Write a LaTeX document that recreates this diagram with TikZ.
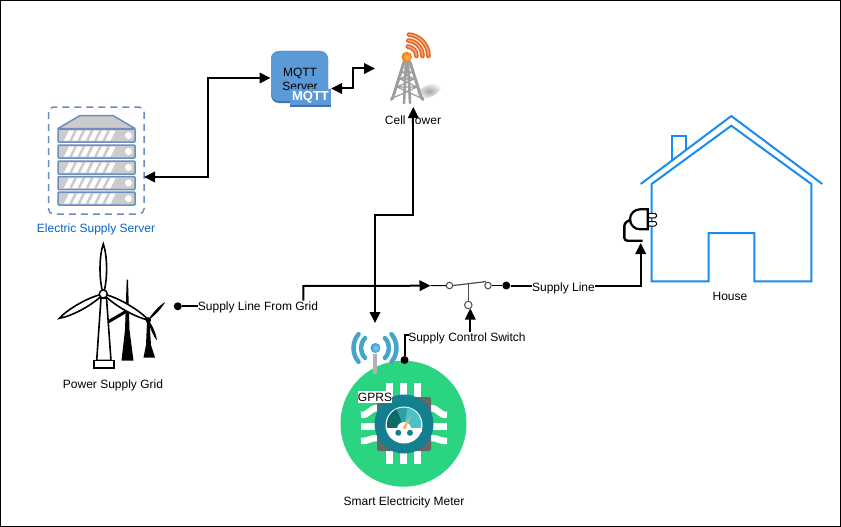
\documentclass[tikz,border=0pt]{standalone}
\usepackage{fontspec}
\setmainfont{Liberation Sans}
\usetikzlibrary{arrows.meta,shapes.geometric}
\definecolor{srvline}{HTML}{6C8EBF}
\definecolor{srvblue}{HTML}{0066CC}
\definecolor{housecol}{HTML}{1A8CF0}
\definecolor{mqttcol}{HTML}{5B9AD6}
\definecolor{mqttdark}{HTML}{3F73A8}
\definecolor{metergreen}{HTML}{2BD481}
\definecolor{meterteal}{HTML}{14808F}
\definecolor{wificol}{HTML}{45A5C9}
\definecolor{arcdark}{HTML}{E4642C}
\definecolor{arclight}{HTML}{F8AA6E}
\definecolor{ballorange}{HTML}{F07818}
\definecolor{ballcore}{HTML}{FFC040}
\definecolor{ballblue}{HTML}{2E9BDC}
\definecolor{gaugemid}{HTML}{2DA0AA}
\definecolor{gaugelight}{HTML}{4CC3C9}
\definecolor{gaugedark}{HTML}{0F6969}
\definecolor{needle}{HTML}{F4B464}
\newcommand{\blademark}[6]{% x y angle length halfwidth style
  \begin{scope}[shift={(#1,#2)},rotate=#3]
  \path[#6] (0,0) .. controls (#4*.3,#5*1.3) and (#4*.8,#5) .. (#4,0)
    .. controls (#4*.8,-#5) and (#4*.3,-#5*1.3) .. (0,0) -- cycle;
  \end{scope}}
\tikzset{
  lbl/.style={font=\fontsize{12}{14}\selectfont,inner sep=0pt,text=black},
  conn/.style={draw=black,line width=2pt,line join=miter},
  head/.style={-{Triangle[length=11pt,width=10.5pt]}},
  bothheads/.style={{Triangle[length=11pt,width=10.5pt]}-{Triangle[length=11pt,width=10.5pt]}},
  dotnode/.style={circle,fill=black,inner sep=0pt,minimum size=8pt},
  swcontact/.style={circle,draw=black!70,fill=white,line width=1pt,inner sep=0pt,minimum size=6.5pt},
  srvrow/.style={draw=srvline,fill=black!20,line width=1.5pt,rounded corners=1pt},
  housepath/.style={draw=housecol,line width=2pt,line join=miter},
  pinw/.style={draw=white,line width=6.5pt},
  wifiarc/.style={draw=wificol,line width=4.5pt,line cap=round}
}
\begin{document}
\begin{tikzpicture}[x=1pt,y=-1pt]
\useasboundingbox (0,0) rectangle (841,527);
\fill[white] (0,0) rectangle (841,527);
\draw[black,line width=1pt] (0.5,0.5) rectangle (840.5,526.5);

% ---- server
\draw[srvline,line width=1.5pt,dash pattern=on 7pt off 5pt,rounded corners=5pt] (48.5,107) rectangle (144,214);
\path[draw=srvline,fill=black!20,line width=1.5pt,line join=round] (58,128.5) -- (80,115.5) -- (113,115.5) -- (135,128.5) -- cycle;
\foreach \yt in {129,145,161,176.5,192}{
  \path[srvrow] (58,\yt) rectangle (135,\yt+13);
  \foreach \k in {0,...,5}{
    \fill[white] (64+\k*8.3,\yt+11.5) -- (69+\k*8.3,\yt+11.5) -- (74+\k*8.3,\yt+1.5) -- (69+\k*8.3,\yt+1.5) -- cycle;
  }
  \fill[white] (128.5,\yt+6.5) circle (3.5);
}
\node[lbl,text=srvblue] (srvlabel) at (96,229) {Electric Supply Server};
\coordinate (srvport) at (144,177);

% ---- MQTT server
\path[fill=mqttdark,rounded corners=8pt] (271,51) rectangle (328,103);
\path[fill=mqttcol,rounded corners=8pt] (271,51) rectangle (328,101);
\node[lbl,align=center] (mqtt) at (300,79) {MQTT\\Server};
\fill[mqttdark] (290,90) rectangle (331,106.5);
\node[font=\fontsize{13}{15}\selectfont\bfseries,fill=mqttcol,text=white,inner sep=0pt,minimum width=41pt,minimum height=15pt] (mqtttag) at (310.5,97) {MQTT};
\coordinate (mqttwest) at (270.5,78);
\coordinate (mqtteast) at (331,88.5);
\coordinate (towerwest) at (375,68.5);

% ---- cell tower
\shade[inner color=black!35,outer color=white,rotate around={25:(429,91)}] (429,91) ellipse (14 and 6);
\foreach \r in {21.5,15.5,9.5}{
  \draw[draw=arcdark,line width=4.6pt,line cap=round] (407+\r,56) arc[start angle=0,end angle=-85,radius=\r];
  \draw[draw=arclight,line width=1.4pt,line cap=round] (407+\r,56) arc[start angle=0,end angle=-85,radius=\r];
}
\begin{scope}[black!38,line cap=round]
  \draw[line width=3pt] (404,62) -- (393,97) -- (391.5,99.5);
  \draw[line width=3pt] (410,62) -- (421,97) -- (423,99.5);
  \draw[line width=2.6pt] (406,62) -- (404,103);
  \draw[line width=2.6pt] (408,62) -- (410,103);
  \draw[line width=1.2pt] (402,72) -- (412,72) (400,79) -- (414,79) (397,87) -- (417,87)
     (402,72) -- (414,79) (412,72) -- (400,79) (400,79) -- (417,87) (414,79) -- (397,87) (397,87) -- (421,98) (417,87) -- (393,98);
\end{scope}
\shade[inner color=ballcore,outer color=ballorange] (406.7,57) circle (5.2);
\node[lbl] (towerlabel) at (413,120.5) {Cell Tower};
\coordinate (towersouth) at (413.3,107);

% ---- meter
\fill[metergreen] (403.5,423.7) circle (63);
\foreach \x in {389.3,403.5,417.2}{ \draw[pinw,line width=6.8pt] (\x,383) -- (\x,464); }
\draw[pinw] (361,415) .. controls (370,415) and (369,408) .. (378,408);
\draw[pinw] (361,426.5) -- (378,426.5);
\draw[pinw] (361,441) .. controls (370,441) and (369,438) .. (378,438);
\draw[pinw] (447,415) .. controls (438,415) and (439,408) .. (430,408);
\draw[pinw] (447,426.5) -- (430,426.5);
\draw[pinw] (447,441) .. controls (438,441) and (439,438) .. (430,438);
\fill[black!60,rounded corners=2pt] (377,397) rectangle (431,451);
\fill[meterteal] (404,424) circle (29.5);
\fill[white] (404,425) circle (18.5);
\begin{scope}
  \clip (404,424.5) circle (17);
  \fill[white] (385,405) rectangle (423,445);
  \fill[gaugemid] (385,405) rectangle (423,428);
  \fill[gaugelight] (404,428) -- (408,405) -- (423,405) -- (423,428) -- cycle;
  \fill[gaugedark] (404,428) -- (395,405) -- (385,405) -- (385,428) -- cycle;
\end{scope}
\fill[white] (404,429) circle (7);
\fill[white] (386.5,427.5) rectangle (421.5,432);
\fill[needle] (402.5,428) -- (411,415.5) -- (405.5,429) -- cycle;
\fill[meterteal] (398.3,432.8) circle (3);
\fill[meterteal] (410,432.8) circle (3);
\node[lbl,fill=white,minimum width=34pt,minimum height=12.5pt] (gprs) at (375,397) {GPRS};
\node[lbl] (meterlabel) at (404,502.5) {Smart Electricity Meter};

% ---- wifi
\draw[black!30,line width=4.5pt] (375,354) -- (375,374);
\draw[wifiarc] (375,348) ++(135:14) arc[start angle=135,end angle=225,radius=14];
\draw[wifiarc] (375,348) ++(45:14) arc[start angle=45,end angle=-45,radius=14];
\draw[wifiarc] (375,348) ++(140:21.5) arc[start angle=140,end angle=220,radius=21.5];
\draw[wifiarc] (375,348) ++(40:21.5) arc[start angle=40,end angle=-40,radius=21.5];
\shade[inner color=ballblue!50,outer color=ballblue] (375.5,348) circle (5);
\coordinate (wifitop) at (375,323);

% ---- wind turbines
\path[fill=black] (126.7,279.5) -- (128,279.5) -- (129.5,330) -- (133.5,360.5) -- (121.5,360.5) -- (125,330) -- cycle;
\path[draw=black,line width=3pt,line cap=butt] (108,322) -- (126,311.5);
\path[fill=black] (147,322) -- (149.5,322) -- (151,345) -- (155,357.5) -- (143.5,357.5) -- (146,345) -- cycle;
\blademark{148.3}{320}{47}{24.5}{1.6}{fill=black}
\blademark{148.3}{320}{-67}{22}{1.6}{fill=black}
\path[draw=black,fill=white,line width=1.6pt] (101,298) -- (106.5,298) -- (111,360.5) -- (96.7,360.5) -- cycle;
\path[draw=black,fill=white,line width=1.6pt] (94,360.5) rectangle (114,368);
\blademark{103.3}{294}{90}{50}{3.8}{draw=black,fill=white,line width=1.6pt}
\blademark{103.3}{294}{209}{50}{3.8}{draw=black,fill=white,line width=1.6pt}
\blademark{103.3}{294}{-30}{52}{3.8}{draw=black,fill=white,line width=1.6pt}
\draw[black,fill=white,line width=1.4pt] (103.3,294) circle (4);
\fill[black] (148.3,320) circle (2.8);
\node[lbl] (gridlabel) at (113,385.5) {Power Supply Grid};

% ---- house
\draw[housepath] (672,160) -- (672,135.7) -- (686.3,135.7) -- (686.3,150);
\draw[housepath] (640.7,184) -- (731.3,116) -- (822.3,184);
\draw[housepath] (651.7,184) -- (651.7,281.3) -- (708.7,281.3) -- (708.7,233) -- (754.3,233) -- (754.3,281.3) -- (811.3,281.3) -- (811.3,184) -- (731.3,125.7) -- cycle;
\node[lbl] (houselabel) at (730,296) {House};

% ---- plug
\path[draw=black,fill=white,line width=1pt,rounded corners=1.5pt] (648,213.3) rectangle (656.5,217.8);
\path[draw=black,fill=white,line width=1pt,rounded corners=1.5pt] (648,221.5) rectangle (656.5,226);
\path[draw=black,fill=white,line width=2.2pt] (647.7,209.3) -- (640,209.3) arc[start angle=-90,end angle=-270,radius=10] -- (647.7,229.3) -- cycle;
\draw[black,line width=2.4pt,rounded corners=3pt] (631,219.5) -- (624.3,223) -- (624.3,240.7) -- (642.7,240.7);
\coordinate (plugsouth) at (640.7,243);

% ---- switch
\node[swcontact] (swa) at (449.5,285.5) {};
\node[swcontact] (swb) at (488,285.5) {};
\node[swcontact,minimum size=7.5pt] (swc) at (468.3,305) {};
\coordinate (swin) at (430.5,285.7);
\coordinate (lever) at (468.3,283.2);
\coordinate (leverend) at (486,281.6);
\draw[black,line width=1pt] (swin) -- (swa);
\draw[black!70,line width=1.2pt] (swa.east) -- (leverend);
\draw[black!70,line width=1.2pt] (lever) -- (swc);
\node[dotnode] (lineDot) at (506.3,285.5) {};
\draw[black,line width=1pt] (swb) -- (lineDot);

% ---- labels on connectors
\node[lbl] (supplyline) at (563.5,288) {Supply Line};
\node[lbl] (switchlabel) at (467,338) {Supply Control Switch};
\node[lbl] (fromgrid) at (258,307.5) {Supply Line From Grid};
\node[dotnode] (griddot) at (177.8,306.3) {};
\node[dotnode] (meterdot) at (404.5,360) {};
\coordinate (gridup) at (303.3,300.5);
\coordinate (switchup) at (470.3,331.5);
\coordinate (switchtip) at (470.3,308.5);
\coordinate (meterhook) at (408.5,335);

% ---- connectors
\draw[conn,bothheads] (srvport) -- (208,177) -- (208,78) -- (mqttwest);
\draw[conn,bothheads] (mqtteast) -- (353,88.5) -- (353,68.5) -- (towerwest);
\draw[conn,bothheads] (towersouth) -- (413.3,214.7) -- (375,214.7) -- (wifitop);
\draw[conn] (griddot) -- (198,306.3);
\draw[conn,head] (gridup) -- (303.3,286) -- (swin);
\draw[conn] (lineDot) -- (532,285.5);
\draw[conn,head] (595,285.5) -- (640.7,285.5) -- (plugsouth);
\draw[conn,head] (switchup) -- (switchtip);
\draw[conn] (meterdot) -- (404.5,335) -- (meterhook);
\end{tikzpicture}
\end{document}
